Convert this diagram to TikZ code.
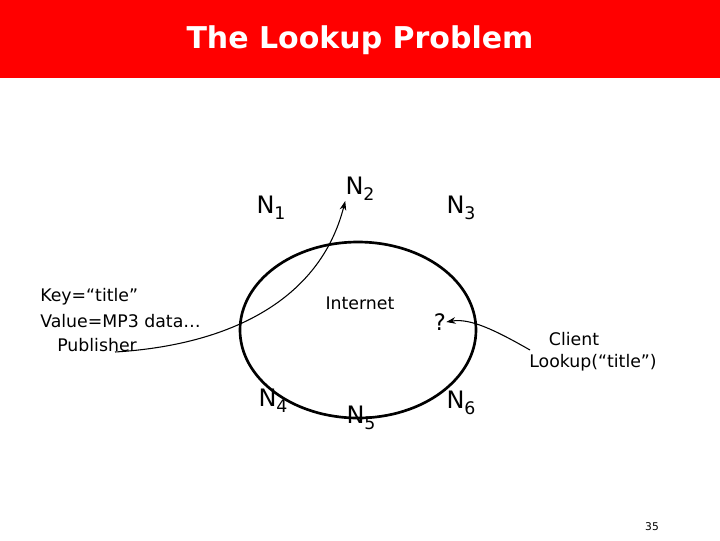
\documentclass[tikz,border=0pt]{standalone}
\usepackage{fontspec}
\setmainfont{DejaVu Sans}
\usetikzlibrary{arrows.meta}
\newcommand{\sbs}[1]{\raisebox{-0.45ex}{\fontsize{13}{13}\selectfont #1}}
\begin{document}
\begin{tikzpicture}[x=0.75pt,y=-0.75pt,
  lbl/.style={inner sep=0pt,font=\fontsize{13}{15}\selectfont},
  nn/.style={inner sep=0pt,font=\fontsize{18}{20}\selectfont},
  con/.style={-{Stealth[length=7pt,width=5pt]},line width=0.8pt}]
\useasboundingbox (0,0) rectangle (720,540);
\fill[red] (0,0) rectangle (720,78);
\node[inner sep=0pt,text=white,font=\fontsize{22.5}{26}\selectfont\bfseries] (title) at (360,40) {The Lookup Problem};
\draw[line width=2pt] (358,330) ellipse [x radius=118, y radius=88];
\node[nn] (n1) at (271,208) {N\sbs{1}};
\node[nn] (n2) at (360,189) {N\sbs{2}};
\node[nn] (n3) at (461,208) {N\sbs{3}};
\node[nn] (n4) at (273,401) {N\sbs{4}};
\node[nn] (n5) at (361,418) {N\sbs{5}};
\node[nn] (n6) at (461,403) {N\sbs{6}};
\node[lbl] (inet) at (360,303) {Internet};
\node[nn,font=\fontsize{17}{20}\selectfont] (q) at (440,322) {?};
\node[lbl,anchor=west] (key) at (40,297) {Key=“title”};
\node[lbl,anchor=west] (val) at (40,321) {Value=MP3 data…};
\node[lbl,anchor=west] (pub) at (57,345) {Publisher};
\node[lbl] (cl) at (574,339) {Client};
\node[lbl] (lk) at (593,363) {Lookup(“title”)};
\node[inner sep=0pt,font=\fontsize{8}{9}\selectfont] (pg) at (652,527) {35};
\coordinate (ps) at (115,352);
\coordinate (cs) at (530,350);
\draw[con] (ps) .. controls (230,345) and (320,300) .. (n2.south west);
\draw[con] (cs) .. controls (495,330) and (470,318) .. (q.east);
\end{tikzpicture}
\end{document}
